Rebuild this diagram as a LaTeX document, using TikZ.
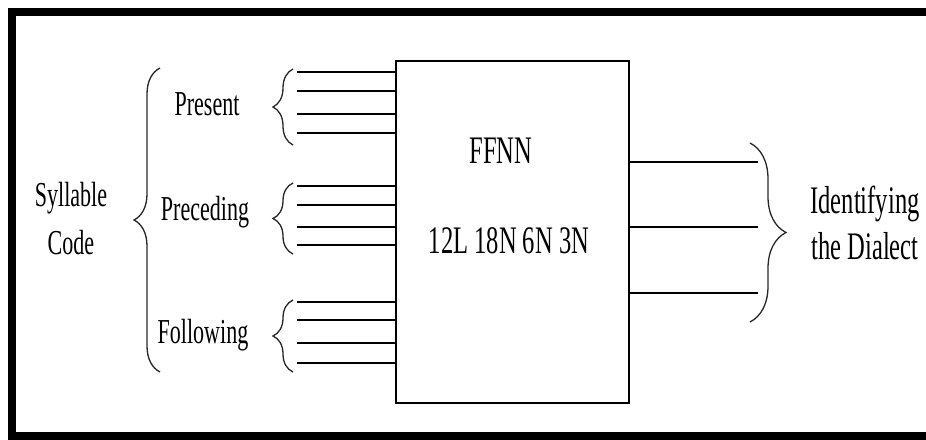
\documentclass[tikz,border=0pt]{standalone}
\usepackage{fontspec}
\setmainfont{Liberation Serif}
\newfontfamily\narrowrm[FakeStretch=0.63]{Liberation Serif}
\usetikzlibrary{positioning, decorations.pathreplacing, calc}
\tikzstyle{lbl}=[%
      rectangle, draw=none, align=center, inner sep=0pt,
      font=\narrowrm\fontsize{35}{48}\selectfont
]
\tikzstyle{big}=[%
      rectangle, draw=none, align=center, inner sep=0pt,
      font=\narrowrm\fontsize{39}{46}\selectfont
]
\tikzstyle{nn}=[%
      rectangle, draw=black, line width=1.6pt, fill=none,
      minimum width=233pt, minimum height=342pt, inner sep=0pt
]
\tikzstyle{brc}=[%
      decorate, line width=1.3pt, draw=black!85
]

\begin{document}
\begin{tikzpicture}[x=1pt, y=-1pt,
    wire/.style={line width=2pt},
]
    \clip (0,0) rectangle (926,439);
    \draw[line width=8pt] (12,12) rectangle (940,436);
    \node[nn]   (ffnn)  at (512.5,232)   {};
    \node[big]  (name)  at (501,163) [anchor=base] {FFNN};
    \node[big]  (size)  at (509,253) [anchor=base] {12L 18N 6N 3N};
    \node[lbl]  (syl)   at (71,219)      {Syllable\\Code};
    \node[lbl]  (pres)  at (207,115) [anchor=base] {Present};
    \node[lbl]  (prec)  at (205,220) [anchor=base] {Preceding};
    \node[lbl]  (foll)  at (203,343) [anchor=base] {Following};
    \node[big]  (out)   at (865,223)     {Identifying\\the Dialect};
    % input wires
    \foreach \y [count=\i] in {72,91,114,133,186,205,227,245,302,320,343,363}
      \coordinate (in\i) at (297,\y);
    \foreach \i in {1,...,12}
      \draw[wire] (in\i) -- (in\i -| ffnn.west);
    % output wires
    \foreach \y [count=\i] in {162,227,293}
      \coordinate (o\i) at (758,\y);
    \foreach \i in {1,2,3}
      \draw[wire] (ffnn.east |- o\i) -- (o\i);
    % braces
    \draw[brc, decoration={brace, amplitude=20pt}] (293,145) -- (293,69);
    \draw[brc, decoration={brace, amplitude=20pt}] (293,254) -- (293,183);
    \draw[brc, decoration={brace, amplitude=20pt}] (293,372) -- (293,300);
    \draw[brc, decoration={brace, amplitude=26pt}] (160,372) -- (160,68);
    \draw[brc, decoration={brace, amplitude=36pt}] (750,143) -- (750,322);
  \end{tikzpicture}
\end{document}
